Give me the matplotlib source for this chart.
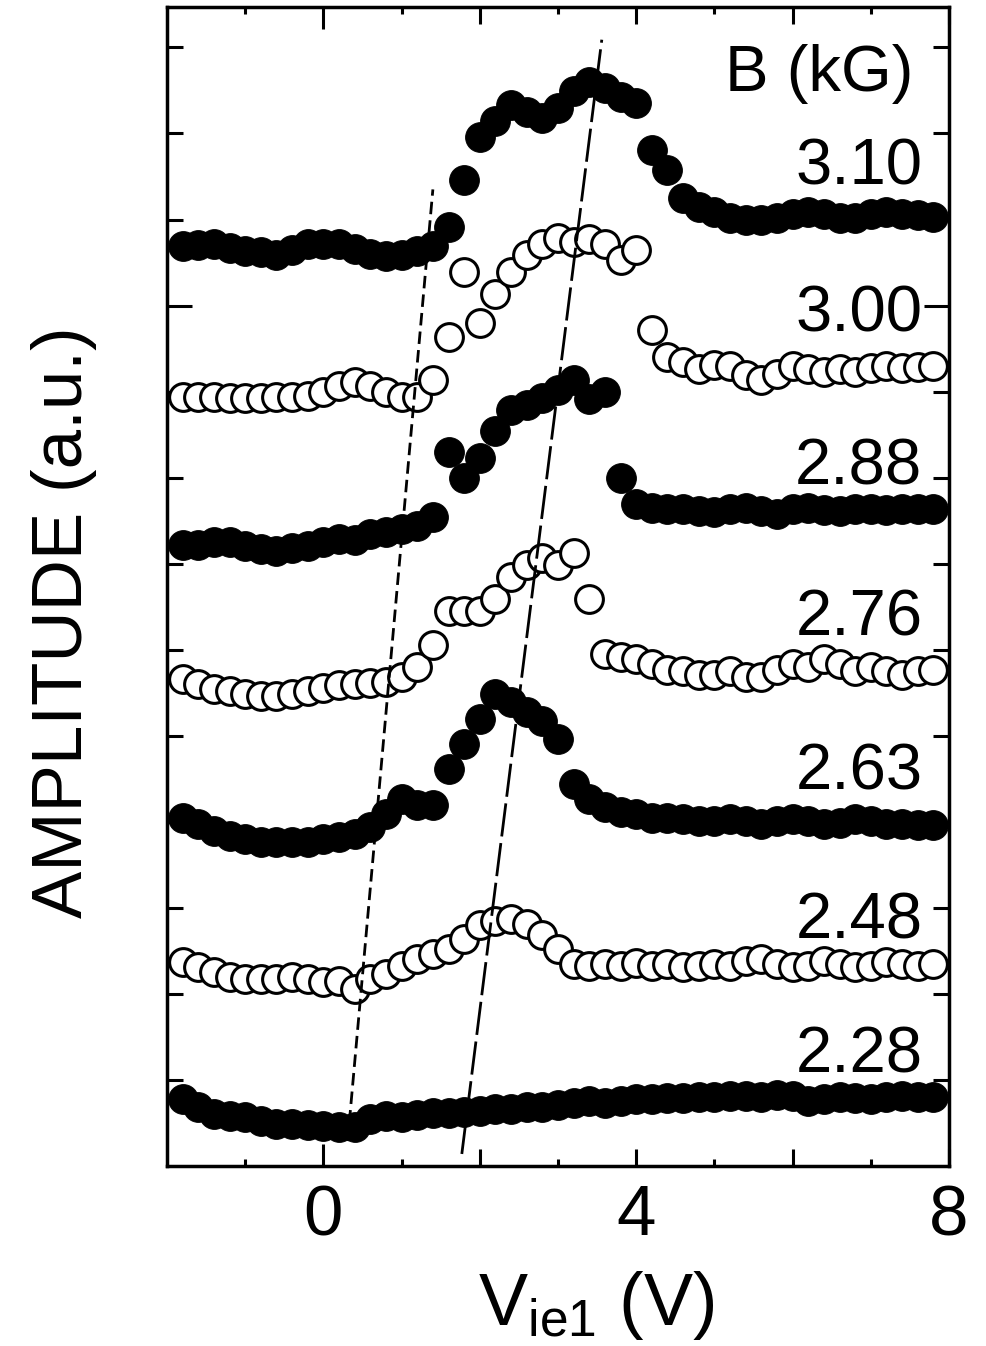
import numpy as np
import matplotlib
matplotlib.use("Agg")
import matplotlib.pyplot as plt

plt.rcParams['font.family'] = ['Liberation Sans', 'DejaVu Sans']
plt.rcParams['mathtext.fontset'] = 'custom'
plt.rcParams['mathtext.rm'] = 'Liberation Sans'
plt.rcParams['mathtext.it'] = 'Liberation Sans:italic'

# Electrode bias grid (V) shared by all sweeps
bias = np.round(np.arange(-1.8, 7.81, 0.2), 1)

# Magnetic field of each sweep (kG), top to bottom
fields = ["3.10", "3.00", "2.88", "2.76", "2.63", "2.48", "2.28"]
filled = [True, False, True, False, True, False, True]

# Stacked wave amplitude traces (a.u.)
amp_310 = [10.69, 10.70, 10.71, 10.67, 10.64, 10.62, 10.59, 10.65, 10.71, 10.72,
           10.71, 10.66, 10.60, 10.58, 10.59, 10.63, 10.69, 10.91, 11.46, 11.96,
           12.14, 12.33, 12.25, 12.18, 12.30, 12.49, 12.60, 12.53, 12.42, 12.36,
           11.81, 11.58, 11.25, 11.15, 11.09, 11.02, 11.00, 11.00, 11.02, 11.06,
           11.09, 11.06, 11.02, 11.02, 11.06, 11.09, 11.06, 11.05, 11.03]
amp_300 = [8.94, 8.94, 8.94, 8.93, 8.93, 8.93, 8.94, 8.94, 8.95, 9.00,
           9.07, 9.11, 9.06, 8.99, 8.94, 8.94, 9.14, 9.64, 10.39, 9.80,
           10.13, 10.39, 10.59, 10.71, 10.79, 10.74, 10.77, 10.71, 10.53, 10.65,
           9.72, 9.40, 9.34, 9.26, 9.31, 9.30, 9.19, 9.14, 9.21, 9.30,
           9.26, 9.23, 9.26, 9.23, 9.28, 9.30, 9.28, 9.29, 9.30]
amp_288 = [7.22, 7.22, 7.25, 7.25, 7.20, 7.17, 7.15, 7.18, 7.21, 7.25,
           7.29, 7.28, 7.35, 7.37, 7.40, 7.44, 7.54, 8.30, 8.00, 8.23,
           8.54, 8.79, 8.85, 8.93, 9.02, 9.14, 8.91, 8.99, 8.00, 7.69,
           7.65, 7.63, 7.63, 7.61, 7.60, 7.63, 7.65, 7.61, 7.58, 7.63,
           7.65, 7.62, 7.61, 7.63, 7.64, 7.62, 7.63, 7.63, 7.63]
amp_276 = [5.66, 5.60, 5.54, 5.52, 5.48, 5.46, 5.46, 5.49, 5.52, 5.56,
           5.59, 5.60, 5.61, 5.62, 5.68, 5.80, 6.06, 6.45, 6.45, 6.45,
           6.59, 6.84, 6.99, 7.07, 6.99, 7.13, 6.59, 5.95, 5.91, 5.89,
           5.83, 5.77, 5.75, 5.71, 5.71, 5.75, 5.68, 5.68, 5.77, 5.83,
           5.80, 5.89, 5.83, 5.75, 5.80, 5.75, 5.71, 5.75, 5.77]
amp_263 = [4.05, 3.97, 3.89, 3.84, 3.80, 3.77, 3.77, 3.77, 3.77, 3.80,
           3.82, 3.86, 3.94, 4.09, 4.26, 4.19, 4.19, 4.61, 4.90, 5.19,
           5.48, 5.39, 5.28, 5.17, 4.96, 4.44, 4.26, 4.17, 4.12, 4.09,
           4.05, 4.05, 4.03, 4.01, 4.01, 4.03, 4.01, 3.98, 4.01, 4.03,
           4.01, 3.97, 3.99, 4.03, 4.01, 3.97, 3.98, 3.96, 3.96]
amp_248 = [2.37, 2.31, 2.25, 2.20, 2.17, 2.17, 2.17, 2.20, 2.17, 2.14,
           2.15, 2.06, 2.17, 2.23, 2.33, 2.40, 2.46, 2.52, 2.64, 2.80,
           2.85, 2.87, 2.81, 2.69, 2.52, 2.35, 2.33, 2.35, 2.33, 2.36,
           2.33, 2.35, 2.31, 2.33, 2.35, 2.32, 2.38, 2.40, 2.35, 2.31,
           2.33, 2.38, 2.35, 2.31, 2.33, 2.37, 2.35, 2.33, 2.35]
amp_228 = [0.78, 0.69, 0.60, 0.58, 0.57, 0.52, 0.49, 0.49, 0.48, 0.46,
           0.45, 0.45, 0.55, 0.58, 0.57, 0.59, 0.62, 0.62, 0.63, 0.64,
           0.66, 0.66, 0.69, 0.69, 0.71, 0.73, 0.75, 0.73, 0.75, 0.78,
           0.78, 0.79, 0.79, 0.80, 0.80, 0.81, 0.81, 0.80, 0.82, 0.81,
           0.75, 0.78, 0.80, 0.79, 0.78, 0.80, 0.81, 0.80, 0.80]
traces = [amp_310, amp_300, amp_288, amp_276, amp_263, amp_248, amp_228]

# Guide lines marking the onset and the peak of the response
onset_v = [0.31, 1.40]
onset_a = [0.29, 11.35]
peak_v = [1.77, 3.56]
peak_a = [0.14, 13.09]

# Baseline heights of the field labels
label_y = [11.41, 9.70, 7.92, 6.16, 4.38, 2.64, 1.09]

fig = plt.figure(figsize=(9.87, 13.46), dpi=100)
ax = fig.add_axes([167 / 987, 1 - 1166 / 1346, (949 - 167) / 987, (1166 - 7) / 1346])

for vals, full in zip(traces, filled):
    if full:
        ax.plot(bias, vals, 'o', ls='none', ms=21.5, mfc='black', mec='black',
                mew=0.6, zorder=2)
    else:
        ax.plot(bias, vals, 'o', ls='none', ms=20, mfc='white', mec='black',
                mew=2.2, zorder=2)

ax.plot(onset_v, onset_a, color='black', lw=2.0, dashes=(4.5, 2.2), zorder=3)
ax.plot(peak_v, peak_a, color='black', lw=2.0, dashes=(12, 2.4), zorder=3)

for f, y in zip(fields, label_y):
    ax.text(7.66, y, f, ha='right', va='baseline', fontsize=47)
ax.text(7.54, 12.49, 'B (kG)', ha='right', va='baseline', fontsize=47)

ax.set_xlim(-2, 8)
ax.set_ylim(0, 13.47)

ax.set_xticks([0, 2, 4, 6, 8])
ax.set_xticklabels(['0', '', '4', '', '8'])
ax.set_xticks([-1, 1, 3, 5, 7], minor=True)
ax.set_yticks(range(1, 14))
ax.set_yticklabels([])

ax.tick_params(axis='x', which='major', direction='in', length=12, width=2.2,
               top=True, labelsize=51, pad=13)
ax.tick_params(axis='x', which='minor', direction='in', length=5, width=2.2,
               top=True)
ax.tick_params(axis='y', which='major', direction='in', length=11.5, width=2.2,
               right=True)

for t in ax.xaxis.get_major_ticks():
    if t.get_loc() == 0:
        t.tick1line.set_markersize(16)
        t.tick2line.set_markersize(16)
for t in ax.yaxis.get_major_ticks():
    if t.get_loc() == 10:
        t.tick1line.set_markersize(18)
        t.tick2line.set_markersize(18)

for s in ax.spines.values():
    s.set_linewidth(2.5)

ax.set_xlabel(r'$\mathrm{V_{ie1}}$ (V)', fontsize=53)
ax.xaxis.set_label_coords(0.5486, -0.1372)
ax.xaxis.label.set_va('baseline')

ax.set_ylabel('AMPLITUDE (a.u.)', fontsize=51)
ax.yaxis.set_label_coords(-0.1317, 0.4694)
ax.yaxis.label.set_va('center')
ax.yaxis.label.set_ha('center')

fig.savefig('out.png', dpi=100)
